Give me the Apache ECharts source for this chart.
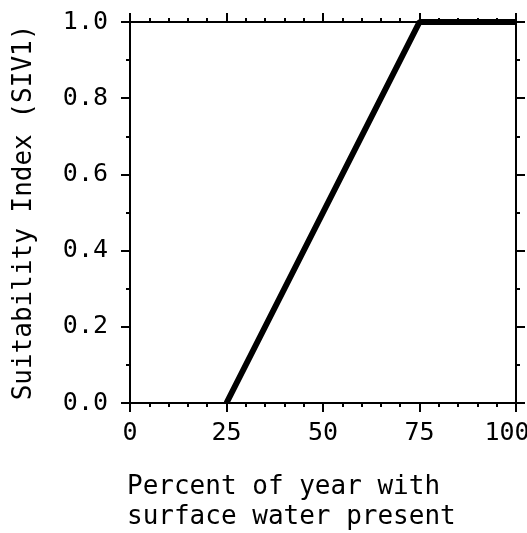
<!DOCTYPE html>
<html>
<head>
<meta charset="UTF-8">
<title>SIV1</title>
<script src="https://cdn.jsdelivr.net/npm/echarts@6/dist/echarts.min.js"></script>
<style>
  html, body { margin: 0; padding: 0; background: #fff; }
  #main { width: 527px; height: 533px; }
</style>
</head>
<body>
<div id="main"></div>
<script type="text/javascript">
    // 数据
    var waterPct = [25, 75, 100];
    var siValue = [0.0, 1.0, 1.0];
    var xTicks = [0, 25, 50, 75, 100];
    var yTicks = ['0.0', '0.2', '0.4', '0.6', '0.8', '1.0'];

    var font = 'DejaVu Sans Mono';
    var pts = [];
    for (var i = 0; i < waterPct.length; i++) {
        pts.push([waterPct[i], siValue[i]]);
    }

    var axisLine = { show: true, onZero: false, lineStyle: { color: '#000', width: 2 } };
    var tickStyle = { show: true, length: 9, lineStyle: { color: '#000', width: 2 } };
    function minor(n) {
        return { show: true, splitNumber: n, length: 4, lineStyle: { color: '#000', width: 2 } };
    }

    var myChart = echarts.init(document.getElementById('main'));
    var option = {
        animation: false,
        title: {
            text: 'Percent of year with\nsurface water present',
            left: 127,
            top: 472,
            padding: 0,
            textStyle: {
                fontFamily: font, fontSize: 26, fontWeight: 'normal',
                color: '#000', lineHeight: 30
            }
        },
        grid: { left: 130, right: 11, top: 22, bottom: 130, containLabel: false, outerBoundsMode: 'none' },
        xAxis: [{
            type: 'value', min: 0, max: 100, interval: 25,
            position: 'bottom',
            axisLine: axisLine, axisTick: tickStyle, minorTick: minor(5),
            splitLine: { show: false },
            axisLabel: {
                fontFamily: font, fontSize: 25, color: '#000', margin: 18,
                formatter: function (v) {
                    if (xTicks.indexOf(v) < 0) return '';
                    return v === 100 ? '{last|' + v + '}' : String(v);
                },
                rich: { last: { fontFamily: font, fontSize: 25, color: '#000', padding: [0, 18, 0, 0] } }
            }
        }, {
            type: 'value', min: 0, max: 100, interval: 25,
            position: 'top',
            axisLine: axisLine, axisTick: tickStyle, minorTick: minor(5),
            splitLine: { show: false },
            axisLabel: { show: false }
        }],
        yAxis: [{
            type: 'value', min: 0, max: 1, interval: 0.2,
            position: 'left',
            name: 'Suitability Index (SIV1)',
            nameLocation: 'middle',
            nameGap: 93,
            nameTextStyle: { fontFamily: font, fontSize: 26, color: '#000' },
            axisLine: axisLine, axisTick: tickStyle, minorTick: minor(2),
            splitLine: { show: false },
            axisLabel: {
                fontFamily: font, fontSize: 25, color: '#000', margin: 22,
                formatter: function (v) { return yTicks[Math.round(v * 5)]; }
            }
        }, {
            type: 'value', min: 0, max: 1, interval: 0.2,
            position: 'right',
            axisLine: axisLine, axisTick: tickStyle, minorTick: minor(2),
            splitLine: { show: false },
            axisLabel: { show: false }
        }],
        series: [{
            type: 'line',
            data: pts,
            symbol: 'none',
            lineStyle: { color: '#000', width: 6 }
        }, {
            // 让上、右两条轴也显示出来
            type: 'line',
            xAxisIndex: 1,
            yAxisIndex: 1,
            data: pts,
            symbol: 'none',
            silent: true,
            lineStyle: { opacity: 0 }
        }]
    };
    myChart.setOption(option);
</script>
</body>
</html>
